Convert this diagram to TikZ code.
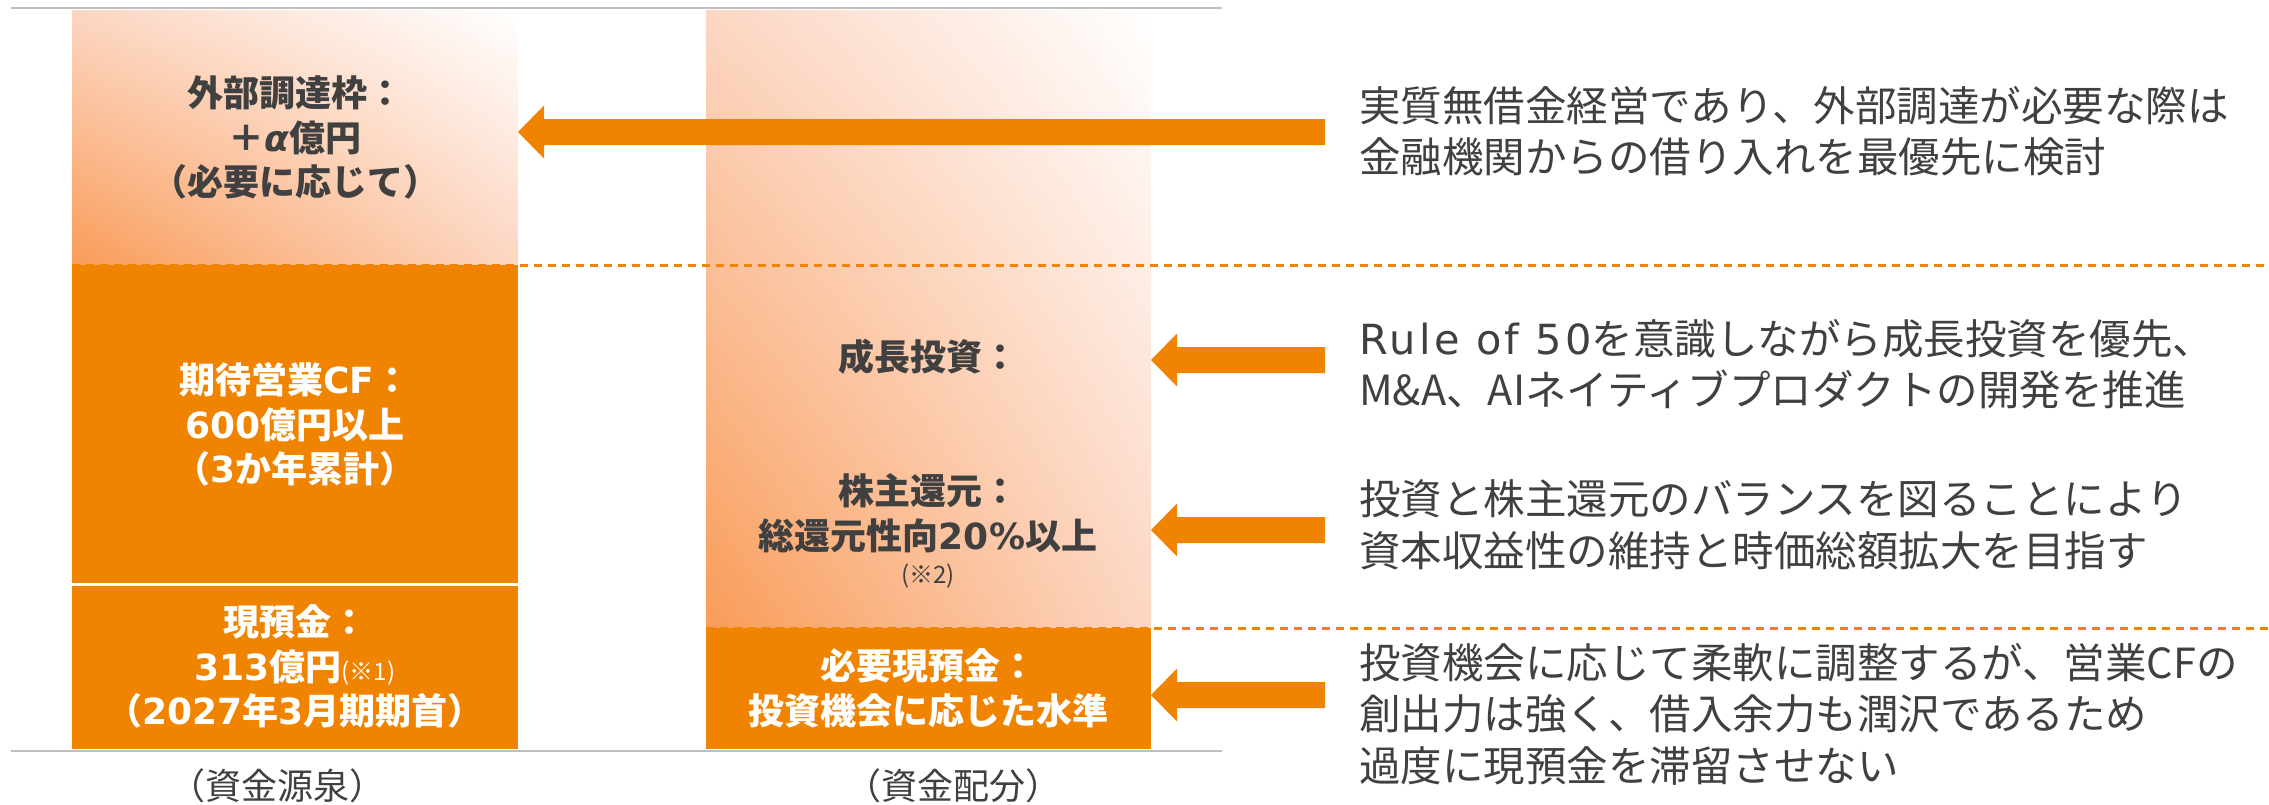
\documentclass[tikz,border=0pt]{standalone}
\usepackage{fontspec}
\setmainfont{Noto Sans CJK JP}
\newfontfamily\lat{DejaVu Sans}
\newfontfamily\latwide{DejaVu Sans}[LetterSpace=8]
\usetikzlibrary{calc,shadings}
\definecolor{ora}{RGB}{240,131,0}
\definecolor{oraL}{RGB}{249,156,88}
\definecolor{oraM}{RGB}{252,214,195}
\definecolor{txtg}{RGB}{64,64,64}
\definecolor{rulec}{RGB}{191,191,191}
\begin{document}
\begin{tikzpicture}[x=1pt,y=-1pt,
  box/.style={inner sep=0pt,outer sep=0pt,align=center},
  solidbox/.style={box,fill=ora,text=white,font=\bfseries\fontsize{36}{44.5}\selectfont},
  gradbox/.style={box,lower left=oraL,upper left=oraM,upper right=white,lower right=oraM,text=txtg,font=\bfseries\fontsize{36}{44.5}\selectfont},
  coltext/.style={inner sep=0pt,align=center,text=txtg,font=\bfseries\fontsize{36}{44.5}\selectfont},
  desc/.style={inner sep=0pt,anchor=west,align=left,text=txtg,font=\fontsize{41.5}{51.5}\selectfont},
  lab/.style={inner sep=0pt,text=txtg,font=\fontsize{36}{44}\selectfont},
  dashln/.style={draw=ora,line width=3pt,dash pattern=on 8pt off 6pt},
  grayrule/.style={draw=rulec,line width=2.5pt},
  bigarrow/.style={to path={let \p1=(\tikztostart), \p2=(\tikztotarget) in
    (\x1,\y1+13pt) -- (\x2+26pt,\y1+13pt) -- (\x2+26pt,\y1+26.5pt) -- (\x2,\y1)
    -- (\x2+26pt,\y1-26.5pt) -- (\x2+26pt,\y1-13pt) -- (\x1,\y1-13pt) -- cycle}}
]
\useasboundingbox (0,0) rectangle (2269,804);

% left column (sources)
\node[gradbox,minimum width=446pt,minimum height=255pt] (ext) at (295,137.5)
  {外部調達枠：\\＋{\lat\itshape α}億円\\（必要に応じて）};
\node[solidbox,minimum width=446pt,minimum height=319.5pt] (cf) at (295,424.75)
  {期待営業{\lat CF}：\\{\lat 600}億円以上\\（{\lat 3}か年累計）};
\node[solidbox,minimum width=446pt,minimum height=164.5pt] (cash) at (295,666.75)
  {現預金：\\{\lat 313}億円{\mdseries\fontsize{24}{30}\selectfont (※1)}\\（{\lat 2027}年{\lat 3}月期期首）};
\draw[white,line width=2.5pt] (cf.south west) -- (cf.south east);

% right column (allocation)
\node[gradbox,minimum width=445pt,minimum height=618pt] (alloc) at (928.5,319) {};
\node[solidbox,minimum width=445pt,minimum height=121pt] (rcash) at (928.5,688.5)
  {必要現預金：\\投資機会に応じた水準};
\node[coltext] (grow) at (928,357) {成長投資：};
\node[coltext] (share) at (928,531) {株主還元：\\総還元性向{\lat 20\%}以上\\[-10pt]{\mdseries\fontsize{24}{30}\selectfont (※2)}};

% dashed separators
\coordinate (redge) at (2269,0);
\draw[dashln] (ext.south west) -- (ext.south west -| redge);
\draw[dashln] (rcash.north west) -- (rcash.north west -| redge);

% gray rules
\coordinate (rl1) at (11,8);  \coordinate (rr1) at (1222,8);
\coordinate (rl2) at (11,751); \coordinate (rr2) at (1222,751);
\draw[grayrule] (rl1) -- (rr1);
\draw[grayrule] (rl2) -- (rr2);

% descriptions
\node[desc] (t1) at (1359,131) {実質無借金経営であり、外部調達が必要な際は\\金融機関からの借り入れを最優先に検討};
\node[desc] (t2) at (1359,364) {{\latwide Rule of 50}を意識しながら成長投資を優先、\\M\&A、AIネイティブプロダクトの開発を推進};
\node[desc] (t3) at (1359,525) {投資と株主還元のバランスを図ることにより\\資本収益性の維持と時価総額拡大を目指す};
\node[desc] (t4) at (1359,714) {投資機会に応じて柔軟に調整するが、営業CFの\\創出力は強く、借入余力も潤沢であるため\\過度に現預金を滞留させない};

% arrows
\coordinate (s1) at (1325,132);
\coordinate (s2) at (1325,360);
\coordinate (s3) at (1325,530);
\coordinate (s4) at (1325,695);
\fill[ora] (s1) to[bigarrow] (ext.east |- s1);
\fill[ora] (s2) to[bigarrow] (alloc.east |- s2);
\fill[ora] (s3) to[bigarrow] (alloc.east |- s3);
\fill[ora] (s4) to[bigarrow] (rcash.east |- s4);

% bottom labels
\node[lab] (srcl) at (277,786) {（資金源泉）};
\node[lab] (alcl) at (953,786) {（資金配分）};
\end{tikzpicture}
\end{document}
